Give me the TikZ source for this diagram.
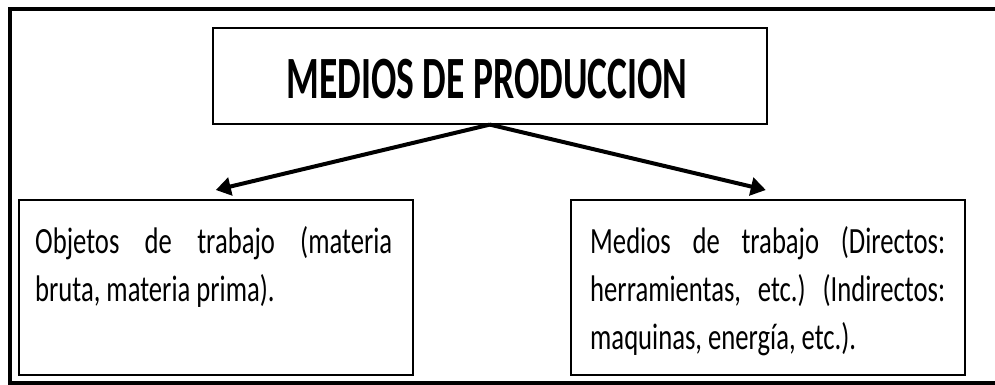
\documentclass[tikz,border=0pt]{standalone}
\usepackage{fontspec}
\setmainfont{Carlito}
\newfontfamily\bodyfont[FakeStretch=0.72]{Carlito}
\newfontfamily\titlefont[FakeStretch=0.625]{Carlito}
\usetikzlibrary{arrows.meta}
\frenchspacing
\tikzset{
  boxstyle/.style={draw=black, line width=1.6pt, inner sep=0pt, anchor=north west},
  bodytext/.style={inner sep=0pt, anchor=base west, align=justify,
    font=\bodyfont\fontsize{37}{48}\selectfont\frenchspacing},
  titletext/.style={inner sep=0pt, font=\titlefont\bfseries\fontsize{60}{62}\selectfont},
  arrowstyle/.style={line width=4pt, -{Triangle[length=15pt,width=18pt]}},
  framestyle/.style={line width=4pt}
}
\begin{document}
\begin{tikzpicture}[x=1pt,y=-1pt]
\useasboundingbox (0,0) rectangle (995,385);
\fill[white] (0,0) rectangle (995,385);
\draw[framestyle] (10,9) rectangle (1010,383);
\node[boxstyle, minimum width=554pt, minimum height=96pt] (top) at (212,27) {};
\node[titletext] (title) at (487,79) {MEDIOS DE PRODUCCION};
\node[boxstyle, minimum width=394pt, minimum height=175pt] (L) at (18,199) {};
\node[boxstyle, minimum width=394pt, minimum height=175pt] (R) at (570,199) {};
\node[bodytext, text width=357pt] (Ltext) at (35,253)
  {Objetos de trabajo (materia\linebreak bruta, materia prima).};
\node[bodytext, text width=355pt] (Rtext) at (590,253)
  {Medios de trabajo (Directos:\linebreak herramientas, etc.) (Indirectos:\linebreak maquinas, energía, etc.).};
\draw[arrowstyle] (top.south) -- ([yshift=9pt]L.north);
\draw[arrowstyle] (top.south) -- ([yshift=9pt,xshift=-2pt]R.north);
\end{tikzpicture}
\end{document}
